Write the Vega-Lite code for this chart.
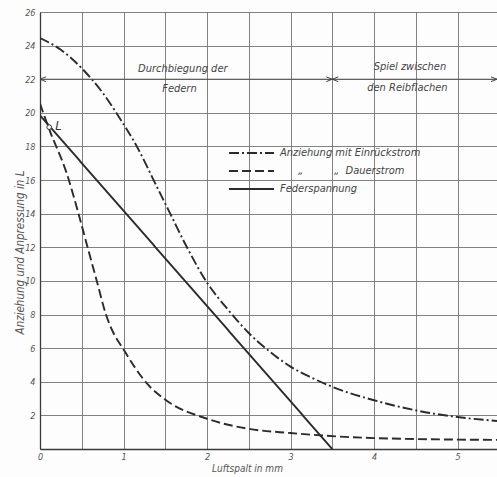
{
  "$schema": "https://vega.github.io/schema/vega-lite/v6.json",
  "width": 457,
  "height": 437,
  "autosize": {"type": "none"},
  "padding": {"left": 40, "top": 12, "right": 0, "bottom": 28},
  "background": "#fdfdfd",
  "config": {
    "view": {"stroke": null},
    "font": "'DejaVu Sans Condensed', 'Liberation Sans Narrow', 'DejaVu Sans', sans-serif",
    "axis": {
      "ticks": false,
      "grid": true,
      "gridColor": "#747474",
      "gridWidth": 0.9,
      "domainColor": "#3a3a3a",
      "domainWidth": 1.3,
      "labelFontSize": 9,
      "labelFontStyle": "italic",
      "labelColor": "#555555",
      "labelFlush": false,
      "labelOverlap": false,
      "titleFontSize": 10,
      "titleFontStyle": "italic",
      "titleFontWeight": "normal",
      "titleColor": "#555555",
      "titleBaseline": "middle"
    }
  },
  "datasets": {
    "curves": [
      {"series": "Anziehung mit Einrückstrom", "x": 0, "y": 24.45},
      {"series": "Anziehung mit Einrückstrom", "x": 0.25, "y": 23.75},
      {"series": "Anziehung mit Einrückstrom", "x": 0.5, "y": 22.65},
      {"series": "Anziehung mit Einrückstrom", "x": 0.75, "y": 21.2},
      {"series": "Anziehung mit Einrückstrom", "x": 0.94, "y": 19.8},
      {"series": "Anziehung mit Einrückstrom", "x": 1.16, "y": 18.0},
      {"series": "Anziehung mit Einrückstrom", "x": 1.4, "y": 15.6},
      {"series": "Anziehung mit Einrückstrom", "x": 1.56, "y": 14.0},
      {"series": "Anziehung mit Einrückstrom", "x": 1.76, "y": 12.0},
      {"series": "Anziehung mit Einrückstrom", "x": 2.0, "y": 9.9},
      {"series": "Anziehung mit Einrückstrom", "x": 2.25, "y": 8.3},
      {"series": "Anziehung mit Einrückstrom", "x": 2.5, "y": 6.9},
      {"series": "Anziehung mit Einrückstrom", "x": 2.75, "y": 5.8},
      {"series": "Anziehung mit Einrückstrom", "x": 3.0, "y": 4.9},
      {"series": "Anziehung mit Einrückstrom", "x": 3.25, "y": 4.25},
      {"series": "Anziehung mit Einrückstrom", "x": 3.5, "y": 3.7},
      {"series": "Anziehung mit Einrückstrom", "x": 4.0, "y": 2.9},
      {"series": "Anziehung mit Einrückstrom", "x": 4.5, "y": 2.3},
      {"series": "Anziehung mit Einrückstrom", "x": 5.0, "y": 1.9},
      {"series": "Anziehung mit Einrückstrom", "x": 5.473, "y": 1.67},
      {"series": "Anziehung mit Dauerstrom", "x": 0, "y": 20.55},
      {"series": "Anziehung mit Dauerstrom", "x": 0.12, "y": 18.9},
      {"series": "Anziehung mit Dauerstrom", "x": 0.32, "y": 16.4},
      {"series": "Anziehung mit Dauerstrom", "x": 0.45, "y": 14.2},
      {"series": "Anziehung mit Dauerstrom", "x": 0.57, "y": 12.0},
      {"series": "Anziehung mit Dauerstrom", "x": 0.68, "y": 10.0},
      {"series": "Anziehung mit Dauerstrom", "x": 0.79, "y": 8.0},
      {"series": "Anziehung mit Dauerstrom", "x": 0.88, "y": 6.9},
      {"series": "Anziehung mit Dauerstrom", "x": 0.99, "y": 6.0},
      {"series": "Anziehung mit Dauerstrom", "x": 1.28, "y": 3.9},
      {"series": "Anziehung mit Dauerstrom", "x": 1.51, "y": 2.9},
      {"series": "Anziehung mit Dauerstrom", "x": 2.0, "y": 1.8},
      {"series": "Anziehung mit Dauerstrom", "x": 2.5, "y": 1.2},
      {"series": "Anziehung mit Dauerstrom", "x": 3.0, "y": 0.95},
      {"series": "Anziehung mit Dauerstrom", "x": 4.0, "y": 0.65},
      {"series": "Anziehung mit Dauerstrom", "x": 5.473, "y": 0.54},
      {"series": "Federspannung", "x": 0, "y": 19.85},
      {"series": "Federspannung", "x": 3.5, "y": 0}
    ],
    "dimension": [
      {"x": 0, "x2": 3.5, "y": 22},
      {"x": 3.5, "x2": 5.473, "y": 22}
    ],
    "arrows": [
      {"x": 0, "y": 22, "dir": "left"},
      {"x": 3.5, "y": 22, "dir": "right"},
      {"x": 3.5, "y": 22, "dir": "left"},
      {"x": 5.473, "y": 22, "dir": "right"}
    ],
    "notes": [
      {"text": "Durchbiegung der", "x": 1.71, "y": 22.6},
      {"text": "Federn", "x": 1.67, "y": 21.4},
      {"text": "Spiel zwischen", "x": 4.43, "y": 22.7},
      {"text": "den Reibflachen", "x": 4.4, "y": 21.45}
    ],
    "pointL": [
      {"x": 0.11, "y": 19.15, "text": "L"}
    ]
  },
  "layer": [
    {
      "data": {"name": "curves"},
      "mark": {"type": "line", "color": "#2b2b2b", "strokeWidth": 1.9, "interpolate": "monotone", "clip": true},
      "encoding": {
        "x": {
          "field": "x", "type": "quantitative",
          "scale": {"domain": [0, 5.473], "nice": false, "zero": false},
          "axis": {
            "title": "Luftspalt in mm",
            "values": [0, 0.5, 1, 1.5, 2, 2.5, 3, 3.5, 4, 4.5, 5],
            "tickCount": 30,
            "labelExpr": "datum.value % 1 === 0 ? format(datum.value, 'd') : ''",
            "labelOverlap": false,
            "labelPadding": 3,
            "titleX": 207,
            "titleY": 19
          }
        },
        "y": {
          "field": "y", "type": "quantitative",
          "scale": {"domain": [0, 26], "nice": false},
          "axis": {
            "title": "Anziehung und Anpressung in L",
            "values": [0, 2, 4, 6, 8, 10, 12, 14, 16, 18, 20, 22, 24, 26],
            "tickCount": 30,
            "labelExpr": "datum.value === 0 ? '' : format(datum.value, 'd')",
            "labelOverlap": false,
            "labelPadding": 5,
            "titleFontSize": 11.5,
            "titleX": -20,
            "titleY": 240
          }
        },
        "strokeDash": {
          "field": "series", "type": "nominal",
          "scale": {
            "domain": ["Anziehung mit Einrückstrom", "Anziehung mit Dauerstrom", "Federspannung"],
            "range": [[10, 3, 2, 3], [9, 4], [1, 0]]
          },
          "legend": {
            "orient": "none",
            "legendX": 206,
            "legendY": 135.5,
            "title": null,
            "padding": 0,
            "symbolType": "M-5,0H5",
            "symbolSize": 81,
            "symbolStrokeWidth": 2,
            "symbolStrokeColor": "#2b2b2b",
            "labelOffset": 23,
            "rowPadding": 6,
            "labelFontSize": 11,
            "labelFontStyle": "italic",
            "labelColor": "#444444",
            "labelLimit": 300,
            "labelExpr": "datum.label === 'Anziehung mit Dauerstrom' ? '\u200b\u2002\u2002\u2002\u00a0\u201e\u2002\u2002\u2002\u2002\u2002\u00a0\u00a0\u201e\u00a0\u00a0Dauerstrom' : datum.label"
          }
        }
      }
    },
    {
      "data": {"name": "dimension"},
      "mark": {"type": "rule", "color": "#555555", "strokeWidth": 1},
      "encoding": {
        "x": {"field": "x", "type": "quantitative"},
        "x2": {"field": "x2"},
        "y": {"field": "y", "type": "quantitative"}
      }
    },
    {
      "data": {"name": "arrows"},
      "mark": {"type": "point", "filled": false, "color": "#444444", "strokeWidth": 1, "size": 36, "opacity": 1},
      "encoding": {
        "x": {"field": "x", "type": "quantitative"},
        "y": {"field": "y", "type": "quantitative"},
        "shape": {
          "field": "dir", "type": "nominal",
          "scale": {"domain": ["left", "right"], "range": ["M2,-0.8L0,0L2,0.8", "M-2,-0.8L0,0L-2,0.8"]},
          "legend": null
        }
      }
    },
    {
      "data": {"name": "notes"},
      "mark": {"type": "text", "fontSize": 11, "fontStyle": "italic", "color": "#444444", "align": "center", "baseline": "middle"},
      "encoding": {
        "x": {"field": "x", "type": "quantitative"},
        "y": {"field": "y", "type": "quantitative"},
        "text": {"field": "text"}
      }
    },
    {
      "data": {"name": "pointL"},
      "mark": {"type": "point", "filled": true, "fill": "#ffffff", "stroke": "#333333", "strokeWidth": 1, "size": 22, "opacity": 1},
      "encoding": {
        "x": {"field": "x", "type": "quantitative"},
        "y": {"field": "y", "type": "quantitative"}
      }
    },
    {
      "data": {"name": "pointL"},
      "mark": {"type": "text", "fontSize": 13, "fontStyle": "italic", "color": "#333333", "align": "left", "baseline": "middle", "dx": 6, "dy": -1},
      "encoding": {
        "x": {"field": "x", "type": "quantitative"},
        "y": {"field": "y", "type": "quantitative"},
        "text": {"field": "text"}
      }
    }
  ]
}
